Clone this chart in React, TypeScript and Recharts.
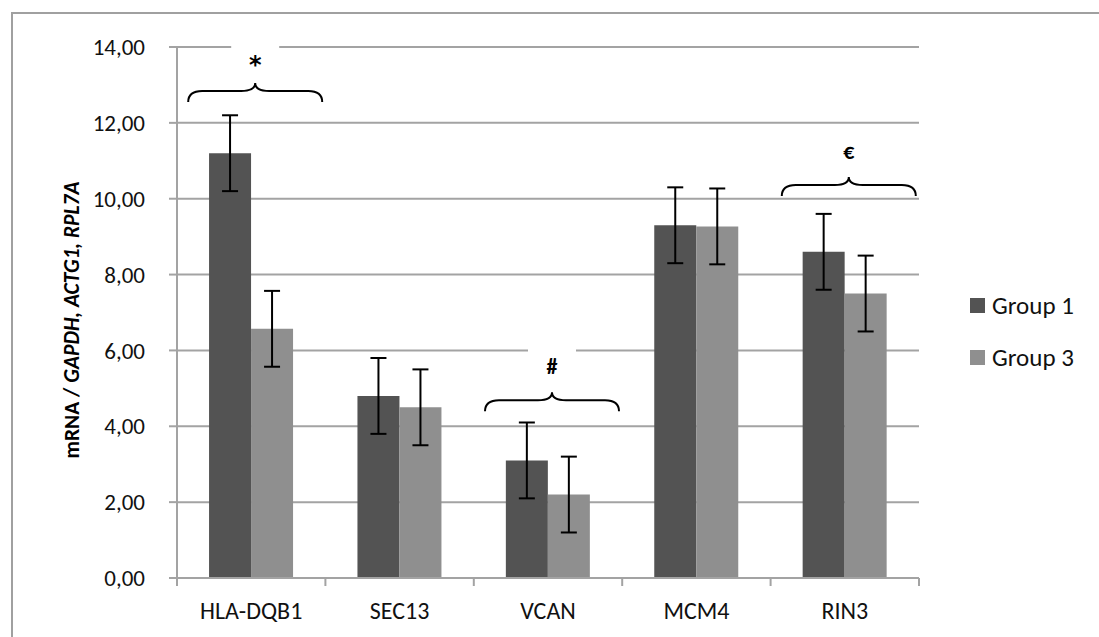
import React from "react";
import { BarChart, Bar, XAxis, YAxis, CartesianGrid, ErrorBar, ReferenceDot } from "recharts";

const categories = ["HLA-DQB1", "SEC13", "VCAN", "MCM4", "RIN3"];
const group1 = [11.2, 4.8, 3.1, 9.3, 8.6];
const group3 = [6.57, 4.5, 2.2, 9.27, 7.5];
const group1Err = [1, 1, 1, 1, 1];
const group3Err = [1, 1, 1, 1, 1];
const seriesNames = ["Group 1", "Group 3"];
const seriesColors = ["#535353", "#8F8F8F"];
const yTicks = [0, 2, 4, 6, 8, 10, 12, 14];

// significance braces over the groups
const markCats = ["HLA-DQB1", "VCAN", "RIN3"];
const markSymbols = ["*", "#", "€"];
const markLevels = [13.05, 4.9, 10.57];

const FONT = "Calibri, Carlito, Lato, sans-serif";
const AXIS_GREY = "#A3A3A3";
const PLOT_BOTTOM = 578;

const data = categories.map((name, i) => ({
  name,
  g1: group1[i],
  g3: group3[i],
  g1Err: group1Err[i],
  g3Err: group3Err[i],
}));

const fmt = (v: number) => v.toFixed(2).replace(".", ",");

function CategoryTick({ x, payload, index }: any) {
  const half = payload?.offset ?? 74.2;
  const last = index === categories.length - 1;
  return (
    <g>
      <line x1={x - half} x2={x - half} y1={PLOT_BOTTOM} y2={PLOT_BOTTOM + 8} stroke={AXIS_GREY} strokeWidth={2} />
      {last && (
        <line x1={x + half} x2={x + half} y1={PLOT_BOTTOM} y2={PLOT_BOTTOM + 8} stroke={AXIS_GREY} strokeWidth={2} />
      )}
      <text x={x} y={PLOT_BOTTOM + 32} textAnchor="middle" dominantBaseline="central" fontFamily={FONT} fontSize={24} fill="#111">
        {payload.value}
      </text>
    </g>
  );
}

function Brace({ cx, cy, symbol }: any) {
  if (cx == null || cy == null) return null;
  const c = cx + 4;
  const x0 = c - 67;
  const x1 = c + 67;
  const arm = cy + 8;
  const end = cy + 19;
  const r = 14;
  const d = `M${x0} ${end} Q${x0} ${arm} ${x0 + r} ${arm} L${c - r} ${arm} Q${c} ${arm} ${c} ${cy} Q${c} ${arm} ${c + r} ${arm} L${x1 - r} ${arm} Q${x1} ${arm} ${x1} ${end}`;
  const star = symbol === "*";
  return (
    <g>
      <rect x={c - 24} y={cy - 44} width={48} height={34} fill="#fff" />
      <path d={d} fill="none" stroke="#000" strokeWidth={2} />
      <text
        x={c}
        y={cy - 18}
        textAnchor="middle"
        fontFamily={star ? "DejaVu Sans, sans-serif" : FONT}
        fontWeight="bold"
        fontSize={star ? 24 : 22}
        dy={star ? 8 : 0}
        fill="#000"
      >
        {symbol}
      </text>
    </g>
  );
}

function YTitle({ viewBox }: any) {
  const x = (viewBox?.x ?? 57) + 15;
  const y = 320;
  return (
    <text x={x} y={y} transform={`rotate(-90 ${x} ${y})`} textAnchor="middle" dominantBaseline="central" fontFamily={FONT} fontWeight="bold" fontSize={21.5} fill="#000">
      mRNA / <tspan fontStyle="italic">GAPDH, ACTG1, RPL7A</tspan>
    </text>
  );
}

export default function App() {
  return (
    <div style={{ position: "absolute", left: 0, top: 0, width: 1099, height: 637, overflow: "hidden", background: "#fff" }}>
      <div style={{ position: "absolute", left: 11, top: 12, width: 1200, height: 800, border: "2px solid #A0A0A0", boxSizing: "border-box" }} />
      <BarChart
        width={1099}
        height={637}
        data={data}
        margin={{ top: 47, right: 180, bottom: 9, left: 57 }}
        barCategoryGap="21.6%"
        barGap={0}
        style={{ position: "absolute", left: 0, top: 0 }}
      >
        <CartesianGrid horizontal vertical={false} stroke={AXIS_GREY} strokeWidth={2} />
        <XAxis
          dataKey="name"
          height={50}
          axisLine={{ stroke: AXIS_GREY, strokeWidth: 2 }}
          tickLine={false}
          tick={<CategoryTick />}
          interval={0}
        />
        <YAxis
          width={120}
          domain={[0, 14]}
          ticks={yTicks}
          tickFormatter={fmt}
          axisLine={{ stroke: AXIS_GREY, strokeWidth: 2 }}
          tickLine={{ stroke: AXIS_GREY, strokeWidth: 2 }}
          tickSize={8}
          tickMargin={24}
          tick={{ fontFamily: FONT, fontSize: 23, fill: "#111" }}
          label={<YTitle />}
        />
        <Bar dataKey="g1" name={seriesNames[0]} fill={seriesColors[0]} isAnimationActive={false}>
          <ErrorBar dataKey="g1Err" direction="y" width={8} stroke="#000" strokeWidth={2} />
        </Bar>
        <Bar dataKey="g3" name={seriesNames[1]} fill={seriesColors[1]} isAnimationActive={false}>
          <ErrorBar dataKey="g3Err" direction="y" width={8} stroke="#000" strokeWidth={2} />
        </Bar>
        {markCats.map((cat, i) => (
          <ReferenceDot
            key={cat}
            x={cat}
            y={markLevels[i]}
            r={0}
            shape={(p: any) => <Brace {...p} symbol={markSymbols[i]} />}
          />
        ))}
      </BarChart>
      <div style={{ position: "absolute", left: 970, top: 289, fontFamily: FONT, fontSize: 25, color: "#111" }}>
        {seriesNames.map((s, i) => (
          <div key={s} style={{ display: "flex", alignItems: "center", height: 32, marginBottom: i === 0 ? 20 : 0 }}>
            <span style={{ display: "inline-block", width: 15, height: 15, background: seriesColors[i], marginRight: 7 }} />
            <span>{s}</span>
          </div>
        ))}
      </div>
    </div>
  );
}
